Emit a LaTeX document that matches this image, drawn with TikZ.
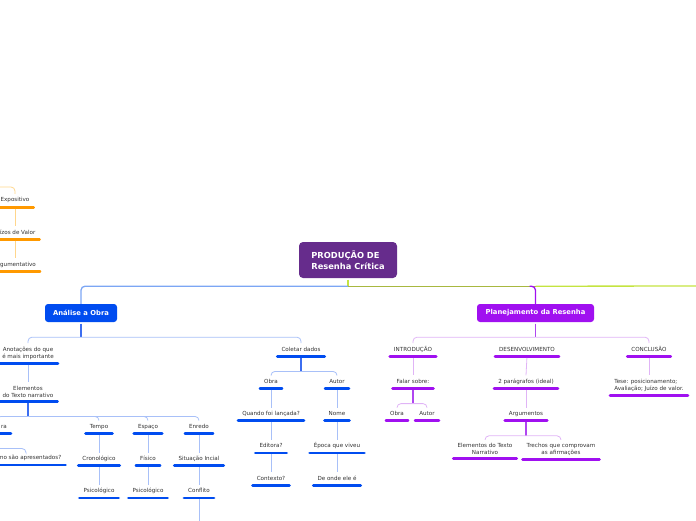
\documentclass[tikz,border=0pt]{standalone}
\usepackage{fontspec}
\setmainfont{DejaVu Sans}
\usetikzlibrary{positioning}

\definecolor{roxoraiz}{RGB}{102,44,140}
\definecolor{azulforte}{RGB}{0,76,240}
\definecolor{azulmedio}{RGB}{60,110,240}
\definecolor{azulclaro}{RGB}{168,192,248}
\definecolor{azulraiz}{RGB}{124,166,244}
\definecolor{roxoforte}{RGB}{160,16,240}
\definecolor{roxomedio}{RGB}{176,70,240}
\definecolor{roxoclaro}{RGB}{224,180,246}
\definecolor{laranja}{RGB}{255,153,0}
\definecolor{laranjaclaro}{RGB}{255,214,140}
\definecolor{verdeoliva}{RGB}{168,184,64}
\definecolor{verdelima}{RGB}{196,228,64}
\definecolor{texto}{RGB}{50,50,50}

\begin{document}
\begin{tikzpicture}[
    x=1pt, y=-1pt,
    node distance=19pt,
    every node/.style={font=\fontsize{5.6}{7}\selectfont, text=texto},
    topico/.style={align=center, inner xsep=4pt, inner ysep=3.65pt,
        text height=4.2pt, text depth=1.3pt,
        append after command={\pgfextra{\draw[line width=2.8pt, line cap=round, draw=#1]
            (\tikzlastnode.south west) -- (\tikzlastnode.south east);}}},
    topico/.default=azulforte,
    duas/.style={text height={}, text depth={}},
    central/.style={rectangle, rounded corners=4pt, fill=roxoraiz, text=white, align=left,
        minimum width=98pt, minimum height=36pt, font=\fontsize{8.3}{11}\selectfont\bfseries},
    principal/.style={rectangle, rounded corners=3pt, fill=#1, text=white,
        minimum height=18pt, font=\fontsize{6.8}{8}\selectfont\bfseries},
    ramo/.style={draw=#1, line width=0.8pt, rounded corners=4pt},
    haste/.style={draw=#1, line width=1.2pt, shorten <=1.4pt},
    liga/.style={draw=#1, line width=0.8pt, shorten <=1.4pt}
]

\useasboundingbox (0,0) rectangle (696,520);
\clip (0,0) rectangle (696,520);

% Radice
\node[central] (raiz) at (348,260) {PRODUÇÃO DE\\Resenha Crítica};

% Rami principali
\node[principal=azulforte, minimum width=72pt] (analise) at (81,313) {Análise a Obra};
\node[principal=roxoforte, minimum width=117pt] (planejamento) at (535.5,313) {Planejamento da Resenha};

% Ramo arancione, fuori quadro a sinistra
\node[topico=laranja] (expositivo) at (15,200.5) {Expositivo};
\node[topico=laranja, below=of expositivo] (juizos) {Juízos de Valor};
\node[topico=laranja, below=of juizos] (argumentativo) {Argumentativo};

% Análise a Obra
\node[topico, duas, below=21pt of analise, xshift=-53pt] (anotacoes) {Anotações do que\\é mais importante};
\node[topico, below=21pt of analise, xshift=220pt] (coletar) {Coletar dados};
\node[topico, duas, below=of anotacoes] (elementos) {Elementos\\do Texto narrativo};

% Elementos del testo
\node[topico, text width=20pt, align=right, anchor=south east] (ra) at (11,433.5) {ra};
\node[topico, anchor=south] (como) at (26,465) {Como são apresentados?};
\node[topico, below=of elementos, xshift=71pt] (tempo) {Tempo};
\node[topico, below=of tempo] (crono) {Cronológico};
\node[topico, below=of crono] (psicotempo) {Psicológico};
\node[topico, below=of elementos, xshift=120pt] (espaco) {Espaço};
\node[topico, below=of espaco] (fisico) {Físico};
\node[topico, below=of fisico] (psicoespaco) {Psicológico};
\node[topico, below=of elementos, xshift=171pt] (enredo) {Enredo};
\node[topico, below=of enredo] (situacao) {Situação Incial};
\node[topico, below=of situacao] (conflito) {Conflito};

% Coletar dados
\node[topico, below=of coletar, xshift=-30pt] (obra) {Obra};
\node[topico, below=of obra] (quando) {Quando foi lançada?};
\node[topico, below=of quando] (editora) {Editora?};
\node[topico, below=of editora] (contexto) {Contexto?};
\node[topico, below=of coletar, xshift=36pt] (autor) {Autor};
\node[topico, below=of autor] (nome) {Nome};
\node[topico, below=of nome] (epoca) {Época que viveu};
\node[topico, below=of epoca] (deonde) {De onde ele é};

% Planejamento da Resenha
\node[topico=roxoforte, below=21pt of planejamento, xshift=-122.5pt] (intro) {INTRODUÇÃO};
\node[topico=roxoforte, below=of intro] (falar) {Falar sobre:};
\node[topico=roxoforte, below=of falar, xshift=-16pt] (obrap) {Obra};
\node[topico=roxoforte, below=of falar, xshift=14pt] (autorp) {Autor};
\node[topico=roxoforte, below=21pt of planejamento, xshift=-8.5pt] (desenv) {DESENVOLVIMENTO};
\node[topico=roxoforte, below=of desenv, xshift=-1pt] (paragrafos) {2 parágrafos (ideal)};
\node[topico=roxoforte, below=of paragrafos] (argumentos) {Argumentos};
\node[topico=roxoforte, duas, below=of argumentos, xshift=-41pt] (elemnarr) {Elementos do Texto\\Narrativo};
\node[topico=roxoforte, duas, below=of argumentos, xshift=35pt] (trechos) {Trechos que comprovam\\as afirmações};
\node[topico=roxoforte, below=21pt of planejamento, xshift=113.5pt] (concl) {CONCLUSÃO};
\node[topico=roxoforte, duas, align=left, below=of concl] (tese) {Tese: posicionamento;\\Avaliação; Juízo de valor.};

% Connettori della radice
\coordinate (jraiz) at ([yshift=-8pt]raiz.south);
\coordinate (jplantopo) at (jraiz -| planejamento.north);
\coordinate (foradireita) at (720,286);
\draw[haste=verdelima] (raiz.south) -- (jraiz);
\draw[ramo=azulraiz, line width=1.3pt] (jraiz) -| (analise.north);
\draw[verdeoliva, line width=1.3pt] (jraiz) -- (jplantopo);
\draw[verdelima, line width=1.3pt] (jplantopo) -- (foradireita);
\draw[ramo=roxoforte, line width=1.3pt] ([xshift=-6pt]jplantopo) -| (planejamento.north);

% Connettori arancioni
\coordinate (foralaranja) at (-20,187);
\draw[ramo=laranjaclaro] (foralaranja) -| (expositivo.north);
\draw[liga=laranjaclaro] (expositivo.south) -- (juizos.north);
\draw[liga=laranjaclaro] (juizos.south) -- (argumentativo.north);

% Connettori blu
\coordinate (janalise) at ([yshift=-15pt]analise.south);
\draw[haste=azulmedio] (analise.south) -- (janalise);
\draw[ramo=azulclaro] (janalise) -| (anotacoes.north);
\draw[ramo=azulclaro] (janalise) -| (coletar.north);
\draw[liga=azulclaro] (anotacoes.south) -- (elementos.north);

\coordinate (jelem) at ([yshift=-15pt]elementos.south);
\draw[haste=azulmedio] (elementos.south) -- (jelem);
\draw[ramo=azulclaro] (jelem) -| (ra.north);
\draw[ramo=azulclaro] (jelem) -| (tempo.north);
\draw[ramo=azulclaro] (jelem) -| (espaco.north);
\draw[ramo=azulclaro] (jelem) -| (enredo.north);

\coordinate (jra) at ([yshift=-15pt]ra.south);
\draw[haste=azulmedio] (ra.south) -- (jra);
\draw[ramo=azulclaro] (jra) -| (como.north);

\draw[liga=azulclaro] (tempo.south) -- (crono.north);
\draw[liga=azulclaro] (crono.south) -- (psicotempo.north);
\draw[liga=azulclaro] (espaco.south) -- (fisico.north);
\draw[liga=azulclaro] (fisico.south) -- (psicoespaco.north);
\draw[liga=azulclaro] (enredo.south) -- (situacao.north);
\draw[liga=azulclaro] (situacao.south) -- (conflito.north);
\coordinate (foraconflito) at ([yshift=-30pt]conflito.south);
\draw[liga=azulclaro] (conflito.south) -- (foraconflito);

\coordinate (jcoletar) at ([yshift=-15pt]coletar.south);
\draw[haste=azulmedio] (coletar.south) -- (jcoletar);
\draw[ramo=azulclaro] (jcoletar) -| (obra.north);
\draw[ramo=azulclaro] (jcoletar) -| (autor.north);
\draw[liga=azulclaro] (obra.south) -- (quando.north);
\draw[liga=azulclaro] (quando.south) -- (editora.north);
\draw[liga=azulclaro] (editora.south) -- (contexto.north);
\draw[liga=azulclaro] (autor.south) -- (nome.north);
\draw[liga=azulclaro] (nome.south) -- (epoca.north);
\draw[liga=azulclaro] (epoca.south) -- (deonde.north);

% Connettori viola
\coordinate (jplan) at ([yshift=-15pt]planejamento.south);
\draw[haste=roxomedio] (planejamento.south) -- (jplan);
\draw[ramo=roxoclaro] (jplan) -| (intro.north);
\draw[ramo=roxoclaro] (jplan) -| (concl.north);
\draw[liga=roxoclaro] (intro.south) -- (falar.north);
\coordinate (jfalar) at ([yshift=-15pt]falar.south);
\draw[haste=roxomedio] (falar.south) -- (jfalar);
\draw[ramo=roxoclaro] (jfalar) -| (obrap.north);
\draw[ramo=roxoclaro] (jfalar) -| (autorp.north);
\draw[liga=roxoclaro] (desenv.south) -- (paragrafos.north);
\draw[liga=roxoclaro] (paragrafos.south) -- (argumentos.north);
\coordinate (jarg) at ([yshift=-15pt]argumentos.south);
\draw[haste=roxomedio] (argumentos.south) -- (jarg);
\draw[ramo=roxoclaro] (jarg) -| (elemnarr.north);
\draw[ramo=roxoclaro] (jarg) -| (trechos.north);
\draw[liga=roxoclaro] (concl.south) -- (tese.north);

\end{tikzpicture}
\end{document}
